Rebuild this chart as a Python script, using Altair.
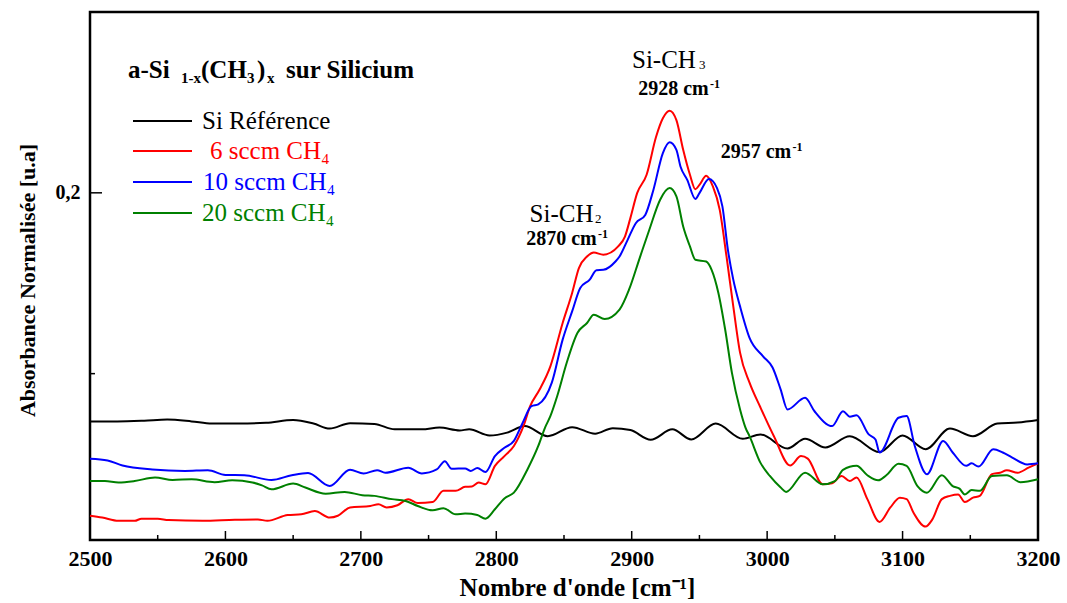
import altair as alt
import pandas as pd

# ---- spectra: wavenumber (cm-1) and normalised absorbance ----
ref_w = [2500, 2520, 2540, 2557, 2575, 2590, 2610, 2630, 2650, 2665, 2677, 2692, 2710, 2725, 2745,
         2758, 2773, 2780, 2795, 2808, 2821, 2838, 2856, 2873, 2886, 2899, 2914, 2930, 2944, 2962,
         2982, 2995, 3015, 3028, 3043, 3061, 3083, 3100, 3117, 3135, 3152, 3170, 3185, 3200]
ref_v = [0.1368, 0.1368, 0.1370, 0.1373, 0.1368, 0.1362, 0.1362, 0.1364, 0.1372, 0.1362, 0.1348,
         0.1363, 0.1361, 0.1346, 0.1346, 0.1351, 0.1343, 0.1346, 0.1329, 0.1337, 0.1355, 0.1327,
         0.1352, 0.1334, 0.1349, 0.1344, 0.1317, 0.1346, 0.1318, 0.1362, 0.1320, 0.1332, 0.1293,
         0.1320, 0.1296, 0.1327, 0.1283, 0.1329, 0.1291, 0.1348, 0.1327, 0.1362, 0.1365, 0.1372]

s6_w = [2500, 2509, 2521, 2533, 2538, 2550, 2558, 2583, 2607, 2624, 2631, 2646, 2656, 2666, 2677,
        2683, 2692, 2707, 2713, 2719, 2727, 2735, 2742, 2753, 2761, 2770, 2777, 2782, 2787, 2792,
        2799, 2806, 2813, 2820, 2825, 2832, 2840, 2849, 2856, 2861, 2867, 2872, 2879, 2890, 2895,
        2899, 2904, 2911, 2918, 2923, 2928, 2933, 2938, 2943, 2947, 2950, 2955, 2960, 2965, 2970,
        2975, 2980, 2987, 2995, 3005, 3017, 3025, 3030, 3041, 3048, 3055, 3061, 3066, 3074, 3083,
        3091, 3098, 3103, 3108, 3117, 3122, 3129, 3135, 3141, 3146, 3152, 3157, 3166, 3172, 3177,
        3185, 3193, 3200]
s6_v = [0.1107, 0.1102, 0.1093, 0.1093, 0.1099, 0.1099, 0.1095, 0.1093, 0.1096, 0.1097, 0.1093,
        0.1109, 0.1111, 0.1120, 0.1102, 0.1107, 0.1130, 0.1134, 0.1139, 0.1130, 0.1136, 0.1153,
        0.1142, 0.1145, 0.1176, 0.1176, 0.1187, 0.1188, 0.1199, 0.1194, 0.1245, 0.1272, 0.1300,
        0.1354, 0.1410, 0.1456, 0.1521, 0.1640, 0.1723, 0.1792, 0.1824, 0.1835, 0.1829, 0.1852,
        0.1879, 0.1930, 0.1999, 0.2050, 0.2155, 0.2206, 0.2227, 0.2201, 0.2119, 0.2050, 0.2010,
        0.2022, 0.2047, 0.2017, 0.1953, 0.1824, 0.1686, 0.1558, 0.1475, 0.1407, 0.1327, 0.1246,
        0.1272, 0.1265, 0.1194, 0.1197, 0.1217, 0.1203, 0.1213, 0.1153, 0.1090, 0.1130, 0.1157,
        0.1153, 0.1116, 0.1077, 0.1097, 0.1153, 0.1162, 0.1166, 0.1145, 0.1157, 0.1162, 0.1222,
        0.1226, 0.1233, 0.1226, 0.1240, 0.1252]

s10_w = [2500, 2513, 2524, 2546, 2570, 2587, 2600, 2614, 2634, 2649, 2661, 2677, 2692, 2702, 2712,
         2718, 2735, 2745, 2756, 2762, 2767, 2777, 2781, 2786, 2792, 2799, 2806, 2813, 2819, 2826,
         2831, 2841, 2849, 2856, 2862, 2869, 2874, 2879, 2888, 2891, 2897, 2903, 2910, 2916, 2923,
         2928, 2933, 2936, 2941, 2947, 2950, 2957, 2963, 2967, 2971, 2975, 2980, 2987, 2997, 3004,
         3010, 3015, 3028, 3035, 3048, 3056, 3061, 3066, 3075, 3080, 3083, 3097, 3103, 3109, 3118,
         3130, 3137, 3147, 3151, 3156, 3167, 3174, 3181, 3192, 3200]
s10_v = [0.1265, 0.1260, 0.1246, 0.1235, 0.1231, 0.1233, 0.1220, 0.1219, 0.1206, 0.1219, 0.1225,
         0.1189, 0.1234, 0.1224, 0.1233, 0.1226, 0.1240, 0.1224, 0.1235, 0.1258, 0.1237, 0.1238,
         0.1231, 0.1239, 0.1228, 0.1272, 0.1295, 0.1314, 0.1360, 0.1410, 0.1415, 0.1475, 0.1594,
         0.1672, 0.1737, 0.1760, 0.1786, 0.1787, 0.1810, 0.1824, 0.1870, 0.1916, 0.1939, 0.2008,
         0.2110, 0.2140, 0.2119, 0.2073, 0.2036, 0.1983, 0.1999, 0.2038, 0.2013, 0.1962, 0.1843,
         0.1760, 0.1686, 0.1599, 0.1548, 0.1517, 0.1456, 0.1401, 0.1433, 0.1396, 0.1355, 0.1396,
         0.1381, 0.1385, 0.1332, 0.1318, 0.1282, 0.1378, 0.1383, 0.1300, 0.1222, 0.1314, 0.1282,
         0.1245, 0.1252, 0.1243, 0.1291, 0.1282, 0.1268, 0.1249, 0.1252]

s20_w = [2500, 2511, 2521, 2533, 2548, 2561, 2575, 2592, 2605, 2620, 2627, 2634, 2650, 2659, 2674,
         2688, 2701, 2710, 2723, 2733, 2742, 2753, 2761, 2770, 2777, 2786, 2792, 2799, 2806, 2813,
         2823, 2831, 2836, 2840, 2845, 2852, 2860, 2867, 2872, 2880, 2891, 2898, 2906, 2913, 2921,
         2928, 2933, 2938, 2943, 2947, 2955, 2959, 2964, 2969, 2974, 2980, 2984, 2987, 2995, 3002,
         3010, 3014, 3028, 3041, 3050, 3056, 3066, 3074, 3082, 3088, 3097, 3103, 3111, 3118, 3129,
         3137, 3142, 3146, 3151, 3157, 3166, 3177, 3187, 3200]
s20_v = [0.1203, 0.1203, 0.1199, 0.1203, 0.1213, 0.1206, 0.1208, 0.1200, 0.1205, 0.1199, 0.1191,
         0.1180, 0.1196, 0.1185, 0.1168, 0.1173, 0.1164, 0.1162, 0.1153, 0.1148, 0.1134, 0.1122,
         0.1128, 0.1111, 0.1113, 0.1109, 0.1099, 0.1125, 0.1155, 0.1171, 0.1235, 0.1300, 0.1351,
         0.1383, 0.1438, 0.1530, 0.1613, 0.1640, 0.1663, 0.1651, 0.1677, 0.1732, 0.1821, 0.1898,
         0.1981, 0.2013, 0.1990, 0.1907, 0.1852, 0.1815, 0.1810, 0.1787, 0.1723, 0.1622, 0.1502,
         0.1401, 0.1351, 0.1327, 0.1254, 0.1217, 0.1185, 0.1173, 0.1226, 0.1194, 0.1203, 0.1234,
         0.1245, 0.1219, 0.1205, 0.1219, 0.1251, 0.1245, 0.1189, 0.1171, 0.1219, 0.1189, 0.1182,
         0.1166, 0.1178, 0.1176, 0.1217, 0.1219, 0.1200, 0.1208]

series_names = ["Si Référence", "6 sccm CH₄", "10 sccm CH₄", "20 sccm CH₄"]
series_colors = ["#000000", "#ff0000", "#0000ff", "#008000"]

x_major = [2500, 2600, 2700, 2800, 2900, 3000, 3100, 3200]
x_minor = [2550, 2650, 2750, 2850, 2950, 3050, 3150]
y_major = [0.2]
y_minor = [0.15]

W, H = 948, 528
FONT = "Liberation Serif"

rows = []
for name, ws, vs in zip(series_names, [ref_w, s6_w, s10_w, s20_w], [ref_v, s6_v, s10_v, s20_v]):
    for w, v in zip(ws, vs):
        rows.append({"w": w, "v": v, "serie": name})
spectra = pd.DataFrame(rows)

xscale = alt.Scale(domain=[2500, 3200], nice=False, zero=False)
yscale = alt.Scale(domain=[0.104, 0.25], nice=False, zero=False)

x_axis = alt.Axis(values=x_major, format="d", tickSize=0, domain=False, grid=False,
                  labelFont=FONT, labelFontWeight="bold", labelFontSize=22,
                  labelColor="black", labelPadding=8, labelFlush=False, labelOverlap=False,
                  title="Nombre d'onde  [cm⁻¹]", titleFont=FONT, titleFontWeight="bold",
                  titleFontSize=25, titleColor="black", titleX=487, titleY=55,
                  titleAlign="center", titleBaseline="alphabetic")
y_axis = alt.Axis(values=y_major, tickSize=0, domain=False, grid=False,
                  labelExpr="replace(format(datum.value, '.1f'), '.', ',')",
                  labelFont=FONT, labelFontWeight="bold", labelFontSize=20,
                  labelColor="black", labelPadding=10, labelFlush=False,
                  title="Absorbance Normalisée [u.a]", titleFont=FONT,
                  titleFontWeight="bold", titleFontSize=22, titleColor="black",
                  titleAngle=270, titleX=-63, titleY=268, titleAlign="center",
                  titleBaseline="middle")

draw_order = {"Si Référence": 0, "20 sccm CH₄": 1, "10 sccm CH₄": 2, "6 sccm CH₄": 3}
spectra["order"] = spectra["serie"].map(draw_order)

lines = alt.Chart(spectra).mark_line(strokeWidth=2, interpolate="monotone").encode(
    x=alt.X("w:Q", scale=xscale, axis=x_axis),
    y=alt.Y("v:Q", scale=yscale, axis=y_axis),
    color=alt.Color("serie:N", scale=alt.Scale(domain=series_names, range=series_colors), legend=None),
    detail="serie:N",
    order=alt.Order("order:Q"),
)

# inward ticks on the bottom and left frame
xt_major = alt.Chart(pd.DataFrame({"w": x_major})).mark_rule(color="black", strokeWidth=1.5).encode(
    x=alt.X("w:Q", scale=xscale, axis=x_axis), y=alt.value(H), y2=alt.value(H - 9))
xt_minor = alt.Chart(pd.DataFrame({"w": x_minor})).mark_rule(color="black", strokeWidth=1.5).encode(
    x=alt.X("w:Q", scale=xscale, axis=x_axis), y=alt.value(H), y2=alt.value(H - 5))
yt_major = alt.Chart(pd.DataFrame({"v": y_major})).mark_rule(color="black", strokeWidth=1.5).encode(
    y=alt.Y("v:Q", scale=yscale, axis=y_axis), x=alt.value(0), x2=alt.value(12))
yt_minor = alt.Chart(pd.DataFrame({"v": y_minor})).mark_rule(color="black", strokeWidth=1.5).encode(
    y=alt.Y("v:Q", scale=yscale, axis=y_axis), x=alt.value(0), x2=alt.value(5))

one = pd.DataFrame({"k": [0]})


def label(text, x, y, size, bold=False, color="black", align="left", baseline="alphabetic"):
    return alt.Chart(one).mark_text(
        text=text, font=FONT, fontSize=size, fontWeight="bold" if bold else "normal",
        color=color, align=align, baseline=baseline,
    ).encode(x=alt.value(x), y=alt.value(y))


texts = [
    # sample title with subscripts
    label("a-Si", 38, 66, 25, bold=True),
    label("1-x", 91, 71, 15, bold=True),
    label("(CH", 111, 66, 25, bold=True),
    label("3", 157, 71, 15, bold=True),
    label(")", 167, 66, 25, bold=True),
    label("x", 177, 71, 15, bold=True),
    label("sur Silicium", 196, 66, 25, bold=True),
    # band assignments
    label("Si-CH", 542, 56, 25),
    label("3", 609, 57, 13),
    label("2928 cm", 583.5, 83, 20, bold=True, align="center"),
    label("-1", 620, 76, 12, bold=True),
    label("2957 cm", 666, 146, 20, bold=True, align="center"),
    label("-1", 702.5, 139, 12, bold=True),
    label("Si-CH", 471.5, 210, 25, align="center"),
    label("2", 505, 211, 13),
    label("2870 cm", 471.5, 233, 20, bold=True, align="center"),
    label("-1", 508, 226, 12, bold=True),
]

# hand-placed legend
legend_y = [109, 139, 170, 201]
legend_x_text = [112, 120, 113, 112]
legend_text = ["Si Référence", "6 sccm CH₄", "10 sccm CH₄", "20 sccm CH₄"]
legend_layers = []
for name, col, ly, lx in zip(legend_text, series_colors, legend_y, legend_x_text):
    legend_layers.append(
        alt.Chart(one).mark_rule(color=col, strokeWidth=2).encode(
            x=alt.value(43), x2=alt.value(102), y=alt.value(ly)))
    legend_layers.append(label(name, lx, ly, 25, color=col, baseline="middle"))

chart = alt.layer(lines, xt_major, xt_minor, yt_major, yt_minor, *texts, *legend_layers).properties(
    width=W, height=H,
    autosize=alt.AutoSizeParams(type="none"),
    padding={"left": 90, "top": 12, "right": 29, "bottom": 63},
    background="white",
).configure_view(stroke="black", strokeWidth=2.5)

chart.save("out.html", embed_options={"renderer": "svg", "actions": False})
